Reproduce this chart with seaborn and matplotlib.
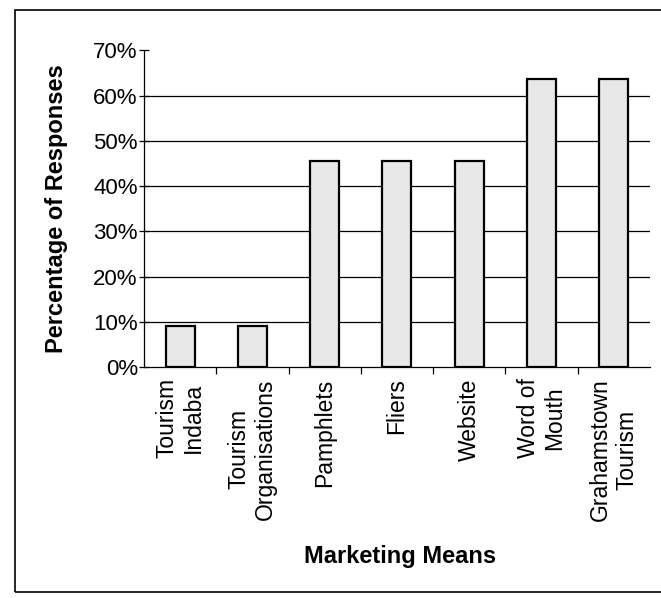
import matplotlib
matplotlib.use("Agg")
import matplotlib.pyplot as plt
import seaborn as sns
import numpy as np
import pandas as pd
from matplotlib.patches import Rectangle
from matplotlib.ticker import FixedLocator, PercentFormatter

categories = ["Tourism\nIndaba", "Tourism\nOrganisations", "Pamphlets", "Fliers",
              "Website", "Word of\nMouth", "Grahamstown\nTourism"]
values = [9.1, 9.1, 45.5, 45.5, 45.5, 63.6, 63.6]
yticks = [0, 10, 20, 30, 40, 50, 60, 70]

sns.set_theme(style="white")
plt.rcParams['font.family'] = ['Liberation Sans', 'DejaVu Sans']
plt.rcParams['text.color'] = 'black'
plt.rcParams['xtick.color'] = 'black'
plt.rcParams['ytick.color'] = 'black'
plt.rcParams['axes.labelcolor'] = 'black'

df = pd.DataFrame({"cat": categories, "val": values})

fig = plt.figure(figsize=(6.61, 5.98), dpi=100)
ax = fig.add_axes([0.218, 0.386, 0.765, 0.530])

# gridlines
for y in yticks[1:-1]:
    ax.axhline(y, color="black", lw=0.9, zorder=0)

sns.barplot(data=df, x="cat", y="val", color="#e8e8e8", edgecolor="black",
            linewidth=1.6, width=0.4, ax=ax, zorder=2, saturation=1)

ax.set_xlim(-0.5, len(categories) - 0.5)
ax.set_ylim(0, 70)
ax.set_yticks(yticks)
ax.yaxis.set_major_formatter(PercentFormatter(decimals=0))
ax.tick_params(axis="y", labelsize=16, length=7, width=0.9, direction="inout",
               left=True, color="black", pad=1, labelcolor="black")
ax.tick_params(axis="x", which="major", length=0, labelsize=16.5, pad=8,
               labelcolor="black")
ax.xaxis.set_minor_locator(FixedLocator(np.arange(0.5, len(categories) - 0.5, 1)))
ax.tick_params(axis="x", which="minor", length=5, width=0.9, direction="out",
               bottom=True, color="black")
for lbl in ax.get_xticklabels():
    lbl.set_rotation(90)
    lbl.set_ha("center")
    lbl.set_va("top")
    lbl.set_multialignment("center")

for s in ["top", "right"]:
    ax.spines[s].set_visible(False)
for s in ["left", "bottom"]:
    ax.spines[s].set_color("black")
    ax.spines[s].set_linewidth(0.9)

ax.set_xlabel("")
ax.set_ylabel("Percentage of Responses", fontsize=17, fontweight="bold",
              color="black")
ax.yaxis.set_label_coords(-0.15, 0.5)
fig.text(400 / 661, 1 - 557 / 598, "Marketing Means", fontsize=17,
         fontweight="bold", ha="center", va="center", color="black")

fig.patches.append(Rectangle((15 / 661, 1 - 592 / 598), 1.0, (592 - 10) / 598,
                             transform=fig.transFigure, fill=False,
                             edgecolor="black", linewidth=1.2))

fig.savefig("out.png", dpi=100, facecolor="white")
